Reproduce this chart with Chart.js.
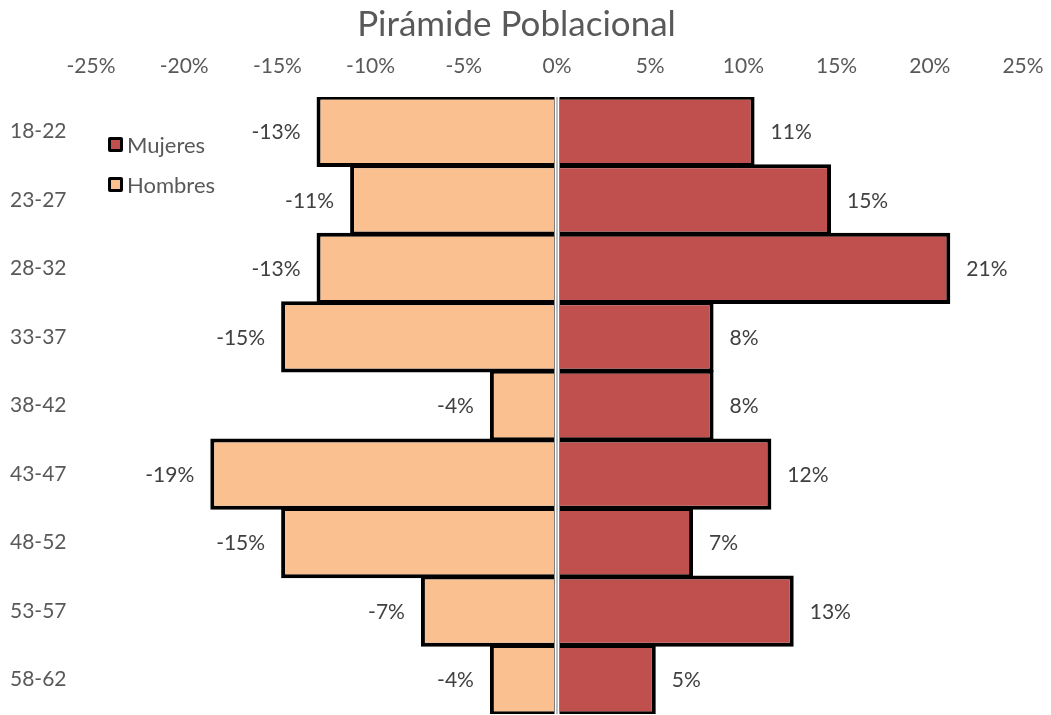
<!DOCTYPE html>
<html>
<head>
<meta charset="utf-8">
<script src="https://cdn.jsdelivr.net/npm/chart.js@4/dist/chart.umd.min.js"></script>
<style>
  body { margin: 0; background: #fff; }
  #wrap { position: relative; width: 1051px; height: 715px; }
  .leg { position: absolute; left: 108px; font: 22px Lato, sans-serif; color: #595959; display: flex; align-items: center; }
  .leg span.box { width: 9px; height: 9px; border: 3px solid #000; border-radius: 2px; margin-right: 4px; }
</style>
</head>
<body>
<div id="wrap">
  <canvas id="pyramid" width="1051" height="715"></canvas>
  <div class="leg" style="top:131px"><span class="box" style="background:#C0504D"></span>Mujeres</div>
  <div class="leg" style="top:171px"><span class="box" style="background:#FAC090"></span>Hombres</div>
</div>
<script>
const ageGroups = ['18-22', '23-27', '28-32', '33-37', '38-42', '43-47', '48-52', '53-57', '58-62'];
const mujeres = [10.6, 14.7, 21.1, 8.4, 8.4, 11.5, 7.3, 12.7, 5.3];
const hombres = [-12.9, -11.1, -12.9, -14.8, -3.6, -18.6, -14.8, -7.3, -3.6];
const xTicks = [-25, -20, -15, -10, -5, 0, 5, 10, 15, 20, 25];

// labels at the end of each bar
const barLabels = {
  id: 'barLabels',
  afterDatasetsDraw(chart) {
    const ctx = chart.ctx;
    ctx.save();
    ctx.font = '21px Lato, sans-serif';
    ctx.fillStyle = '#404040';
    ctx.textBaseline = 'middle';
    chart.data.datasets.forEach((ds, i) => {
      chart.getDatasetMeta(i).data.forEach((bar, j) => {
        const v = ds.data[j];
        ctx.textAlign = v < 0 ? 'right' : 'left';
        ctx.fillText(v.toFixed(0) + '%', bar.x + (v < 0 ? -16 : 16), bar.y + 1);
      });
    });
    ctx.restore();
  }
};

// gray line on zero
const zeroLine = {
  id: 'zeroLine',
  afterDatasetsDraw(chart) {
    const ctx = chart.ctx;
    const x0 = Math.round(chart.scales.x.getPixelForValue(0));
    const a = chart.chartArea;
    ctx.save();
    ctx.fillStyle = '#fff';
    ctx.fillRect(x0 - 3, a.top, 6, a.bottom - a.top);
    ctx.fillStyle = '#7f7f7f';
    ctx.fillRect(x0 - 3, a.top, 1, a.bottom - a.top);
    ctx.fillRect(x0 + 2, a.top, 1, a.bottom - a.top);
    ctx.fillStyle = '#bfbfbf';
    ctx.fillRect(x0 - 1, a.top, 2, a.bottom - a.top);
    ctx.restore();
  }
};

const ctx = document.getElementById('pyramid').getContext('2d');
new Chart(ctx, {
  type: 'bar',
  data: {
    labels: ageGroups,
    datasets: [
      {
        label: 'Mujeres',
        data: mujeres,
        backgroundColor: '#C0504D',
        borderColor: '#000',
        borderWidth: 4,
        barPercentage: 1.04,
        categoryPercentage: 1
      },
      {
        label: 'Hombres',
        data: hombres,
        backgroundColor: '#FAC090',
        borderColor: '#000',
        borderWidth: 4,
        barPercentage: 1.04,
        categoryPercentage: 1
      }
    ]
  },
  options: {
    indexAxis: 'y',
    responsive: false,
    animation: false,
    devicePixelRatio: 1,
    layout: { padding: { left: 10, right: 28, top: 0, bottom: 1 } },
    plugins: {
      legend: { display: false },
      tooltip: { enabled: false },
      title: {
        display: true,
        text: 'Pirámide Poblacional',
        color: '#595959',
        font: { family: 'Lato', size: 35, weight: 'normal' },
        padding: { top: 4, bottom: 2 }
      }
    },
    scales: {
      x: {
        type: 'linear',
        position: 'top',
        stacked: true,
        min: -25,
        max: 25,
        afterBuildTicks: axis => { axis.ticks = xTicks.map(v => ({ value: v })); },
        afterFit: axis => { axis.height = 49; axis.paddingLeft = 0; axis.paddingRight = 0; },
        grid: { display: false, drawTicks: false },
        border: { display: false },
        ticks: {
          color: '#595959',
          font: { family: 'Lato', size: 21 },
          padding: 18,
          maxRotation: 0,
          callback: v => v + '%'
        }
      },
      y: {
        stacked: true,
        afterFit: axis => { axis.width = 81; axis.paddingTop = 0; axis.paddingBottom = 0; },
        grid: { display: false, drawTicks: false },
        border: { display: false },
        ticks: {
          color: '#595959',
          font: { family: 'Lato', size: 21 },
          crossAlign: 'far',
          padding: 0
        }
      }
    }
  },
  plugins: [barLabels, zeroLine]
});
</script>
</body>
</html>
